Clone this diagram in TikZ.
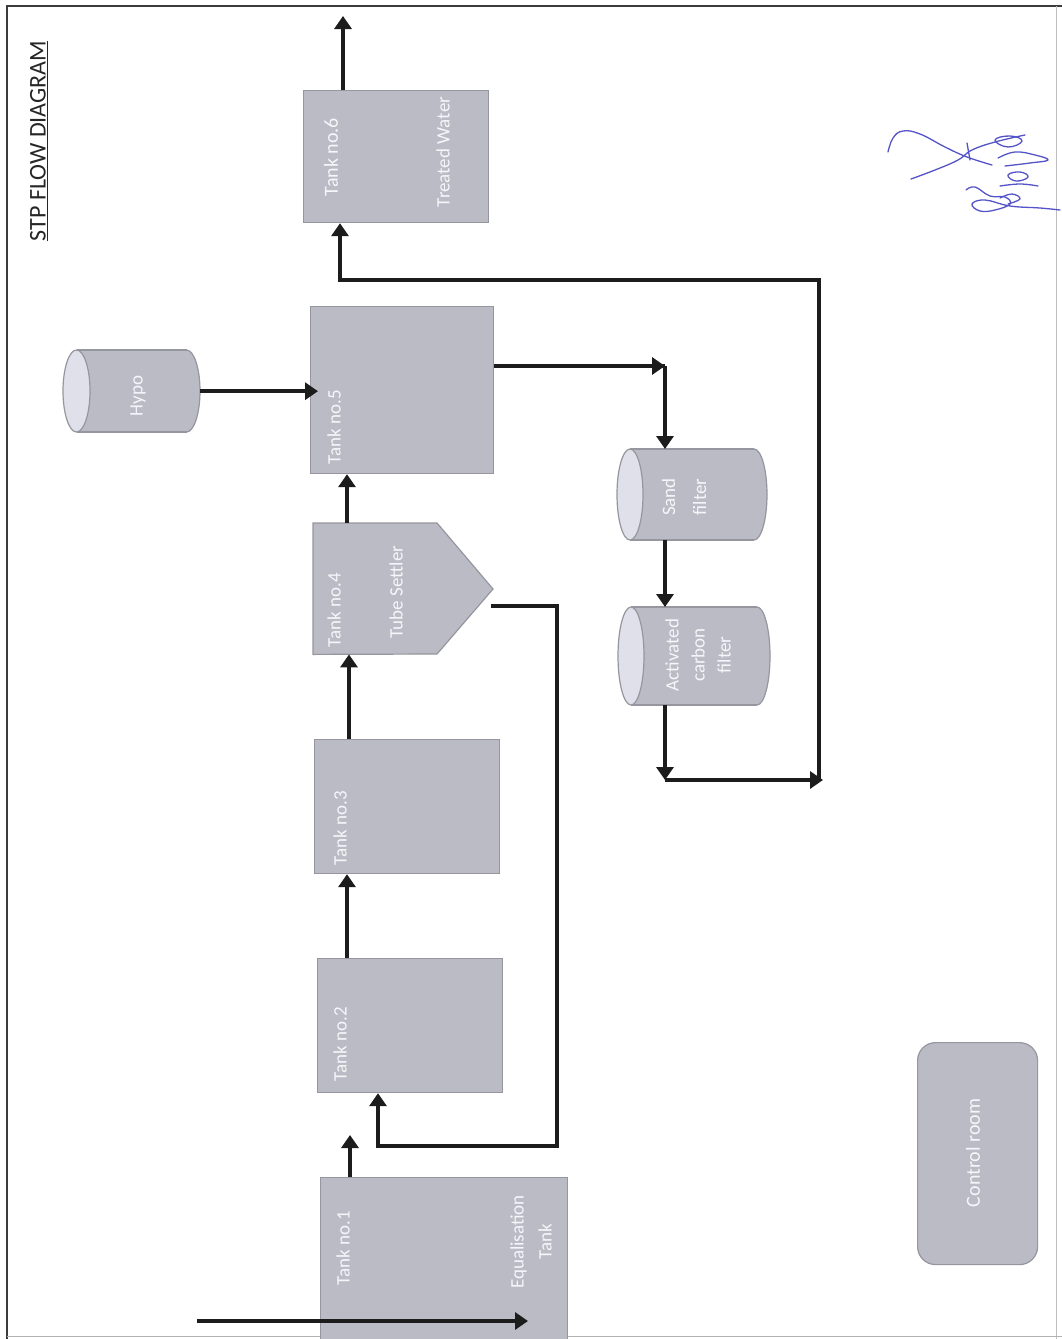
\documentclass[tikz,border=0pt]{standalone}
\usepackage{fontspec}
\setmainfont{Carlito}
\usetikzlibrary{arrows.meta,calc}
\definecolor{tankfill}{RGB}{187,187,197}
\definecolor{tankdraw}{RGB}{150,150,158}
\definecolor{facefill}{RGB}{224,224,234}
\definecolor{labelcol}{RGB}{246,246,250}
\definecolor{flowcol}{RGB}{28,28,28}
\definecolor{framecol}{RGB}{60,60,60}
\definecolor{sigcol}{RGB}{84,84,200}
\begin{document}
\begin{tikzpicture}[x=1pt,y=-1pt,
  tank/.style={draw=tankdraw, fill=tankfill, line width=1.2pt, inner sep=0pt, anchor=north west},
  anchorbox/.style={inner sep=0pt, anchor=north west},
  cylbody/.style={draw=tankdraw, fill=tankfill, line width=1.2pt},
  cylface/.style={draw=tankdraw, fill=facefill, line width=1.2pt},
  lbl/.style={text=labelcol, rotate=90, font=\fontsize{19}{24}\selectfont, align=center, inner sep=0pt},
  flow/.style={draw=flowcol, line width=4pt, -{Triangle[length=13pt,width=17pt]}},
  flowline/.style={draw=flowcol, line width=4pt},
  sig/.style={draw=sigcol, line width=1.3pt, line cap=round, line join=round}]
\useasboundingbox (0,0) rectangle (1062,1339);
\fill[white] (0,0) rectangle (1062,1339);

% frame
\draw[framecol, line width=2.2pt] (7,1339) -- (7,6) -- (1062,6);
\draw[black!25, line width=1pt] (1056,6) -- (1056,1339);
\draw[black!30, line width=1pt] (7,1336) -- (1062,1336);

% title
\node[rotate=90, font=\fontsize{24}{28}\selectfont, text=black!85, inner sep=0pt] (title) at (39,141) {\underline{STP FLOW DIAGRAM}};

% tanks
\node[tank, minimum width=185pt, minimum height=132pt] (t6) at (303,90) {};
\node[tank, minimum width=183pt, minimum height=167pt] (t5) at (310,306) {};
\node[tank, minimum width=185pt, minimum height=134pt] (t3) at (314,739) {};
\node[tank, minimum width=185pt, minimum height=134pt] (t2) at (317,958) {};
\node[tank, minimum width=247pt, minimum height=170pt] (t1) at (320,1177) {};

% tank 4 (tube settler, pentagon)
\node[anchorbox, minimum width=180pt, minimum height=131pt] (t4) at (313,523) {};
\draw[draw=tankdraw, fill=tankfill, line width=1.2pt]
  (t4.north west) -- ++(124,0) -- (493,589) -- (437,654) -- (t4.south west) -- cycle;
\coordinate (t4out) at (491,606);

% cylinders: hypo, sand filter, activated carbon filter
\node[anchorbox, minimum width=137pt, minimum height=82pt] (hypo) at (63,350) {};
\fill[cylbody] (186.5,391) ellipse [x radius=13.5, y radius=41];
\fill[tankfill] (76.5,350) rectangle (186.5,432);
\draw[tankdraw, line width=1.2pt] (76.5,350) -- (186.5,350) (76.5,432) -- (186.5,432);
\filldraw[cylface] (76.5,391) ellipse [x radius=13.5, y radius=41];

\node[anchorbox, minimum width=150pt, minimum height=91pt] (sf) at (617,449) {};
\fill[cylbody] (754,494.5) ellipse [x radius=13, y radius=45.5];
\fill[tankfill] (630,449) rectangle (754,540);
\draw[tankdraw, line width=1.2pt] (630,449) -- (754,449) (630,540) -- (754,540);
\filldraw[cylface] (630,494.5) ellipse [x radius=13, y radius=45.5];

\node[anchorbox, minimum width=152pt, minimum height=98pt] (ac) at (618,607) {};
\fill[cylbody] (757,656) ellipse [x radius=13, y radius=49];
\fill[tankfill] (631,607) rectangle (757,705);
\draw[tankdraw, line width=1.2pt] (631,607) -- (757,607) (631,705) -- (757,705);
\filldraw[cylface] (631,656) ellipse [x radius=13, y radius=49];

% control room
\node[draw=tankdraw, fill=tankfill, line width=1.2pt, rounded corners=18pt, anchor=north west,
      minimum width=120pt, minimum height=222pt, inner sep=0pt] (cr) at (917,1042) {};

% labels
\node[lbl, font=\fontsize{20}{24}\selectfont] (l6a) at (331,157) {Tank no.6};
\node[lbl] (l6b) at (443,152) {Treated Water};
\node[lbl] (l5) at (334,427) {Tank no.5};
\node[lbl] (lh) at (138,396) {Hypo};
\node[lbl] (l4a) at (334,610) {Tank no.4};
\node[lbl] (l4b) at (396,592) {Tube Settler};
\node[lbl] (l3) at (340,828) {Tank no.3};
\node[lbl] (l2) at (340,1044) {Tank no.2};
\node[lbl] (l1a) at (343,1248) {Tank no.1};
\node[lbl, font=\fontsize{19}{28}\selectfont] (l1b) at (531,1242) {Equalisation\\Tank};
\node[lbl, font=\fontsize{19}{31}\selectfont] (lsf) at (684,497) {Sand\\filter};
\node[lbl, font=\fontsize{19}{26}\selectfont] (lac) at (698,655) {Activated\\carbon\\filter};
\node[lbl, font=\fontsize{20}{24}\selectfont] (lcr) at (973,1153) {Control room};

% connectors
\coordinate (outlet) at (343,16);
\draw[flow] ([xshift=40pt]t6.north west) -- (outlet);

\coordinate (acjoin) at (665,780);
\coordinate (retcorner) at (823,780);
\coordinate (rettop) at (819,280);
\coordinate (retbot) at (819,780);
\coordinate (sfcorner) at (665,366);
\draw[flow] (ac.south -| acjoin) -- (acjoin);
\draw[flow] (acjoin) -- (retcorner);
\draw[flow] (retbot) -- (rettop) -| ([xshift=37pt]t6.south west);

\draw[flow, shorten >=-8pt] (hypo.east) -- (hypo.east -| t5.west);

\draw[flowline] (t5.east |- sfcorner) -- (sfcorner);
\draw[flow] ($(t5.east |- sfcorner)+(150,0)$) -- (sfcorner);
\draw[flow] (sfcorner) -- (sf.north -| sfcorner);
\draw[flow] (sf.south -| sfcorner) -- (ac.north -| sfcorner);

\draw[flow] ([xshift=34pt]t4.north west) -- ([xshift=34pt]t4.north west |- t5.south);
\draw[flow] ([xshift=35pt]t3.north west) -- ([xshift=35pt]t3.north west |- t4.south);
\draw[flow] ([xshift=30pt]t2.north west) -- ([xshift=30pt]t2.north west |- t3.south);
\coordinate (t1up) at (350,1135);
\draw[flow] ([xshift=30pt]t1.north west) -- (t1up);

\coordinate (sl1) at (557,606);
\coordinate (sl2) at (557,1146);
\draw[flow] (t4out) -- (sl1) -- (sl2) -| ([xshift=61pt]t2.south west);

\coordinate (inlet) at (197,1321);
\coordinate (t1in) at (528,1321);
\draw[flow] (inlet) -- (t1in);

% signature
\draw[sig] plot[smooth, tension=0.7] coordinates {(888,152) (893,138) (903,131) (920,134) (945,147) (967,157) (992,165)};
\draw[sig] plot[smooth, tension=0.7] coordinates {(911,179) (935,170) (958,160) (972,150) (995,142) (1025,135)};
\draw[sig] (967,143) -- (970,160);
\draw[sig] plot[smooth cycle, tension=0.8] coordinates {(995,140) (1010,136) (1022,141) (1008,147)};
\draw[sig] plot[smooth, tension=0.7] coordinates {(998,158) (1015,152) (1035,155) (1048,160) (1030,163) (1005,166)};
\draw[sig] plot[smooth cycle, tension=0.8] coordinates {(1008,175) (1020,172) (1028,177) (1016,181)};
\draw[sig] plot[smooth, tension=0.7] coordinates {(1000,186) (1020,184) (1038,186)};
\draw[sig] plot[smooth, tension=0.7] coordinates {(966,190) (975,187) (990,196) (1005,197) (1010,204) (995,210) (980,211) (972,204) (985,200) (1010,206) (1040,208) (1060,210)};
\draw[sig] plot[smooth, tension=0.7] coordinates {(1000,198) (1012,194) (1020,199) (1008,204)};
\end{tikzpicture}
\end{document}
